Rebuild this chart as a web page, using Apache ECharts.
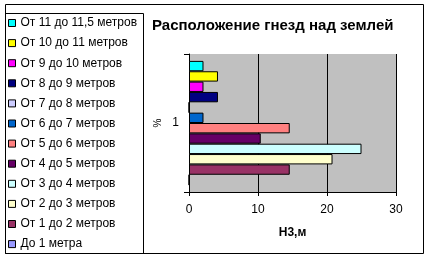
<!DOCTYPE html>
<html>
<head>
<meta charset="utf-8">
<script src="https://cdn.jsdelivr.net/npm/echarts@6/dist/echarts.min.js"></script>
<style>
html,body{margin:0;padding:0;background:#fff;}
#c{width:429px;height:259px;}
</style>
</head>
<body>
<div id="c"></div>
<script>
// Data (percent of nests by height range)
var seriesNames = ['До 1 метра','От 1 до 2 метров','От 2 до 3 метров','От 3 до 4 метров','От 4 до 5 метров','От 5 до 6 метров','От 6 до 7 метров','От 7 до 8 метров','От 8 до 9 метров','От 9 до 10 метров','От 10 до 11 метров','От 11 до 11,5 метров'];
var seriesValues = [0, 14.6, 20.8, 25, 10.4, 14.6, 2.1, 0, 4.2, 2.1, 4.2, 2.1];
var seriesColors = ['#9999FF','#993366','#FFFFCC','#CCFFFF','#660066','#FF8080','#0066CC','#CCCCFF','#000080','#FF00FF','#FFFF00','#00FFFF'];
var categories = ['1'];
var xTicks = [0, 10, 20, 30];

var FONT = '"Liberation Sans", Arial, sans-serif';
var chart = echarts.init(document.getElementById('c'), null, {renderer: 'canvas'});

var series = seriesNames.map(function (n, i) {
  return {
    name: n,
    type: 'bar',
    data: [seriesValues[i]],
    barGap: '0%',
    barCategoryGap: '10%',
    itemStyle: {color: seriesColors[i], borderColor: '#000', borderWidth: 1},
    emphasis: {disabled: true},
    animation: false
  };
}).reverse();

chart.setOption({
  animation: false,
  title: {
    text: 'Расположение гнезд над землей',
    left: 152, top: 18,
    padding: 0,
    textStyle: {fontFamily: FONT, fontSize: 15, fontWeight: 'bold', color: '#000'}
  },
  legend: {
    orient: 'vertical',
    left: 8, top: 16,
    padding: 0,
    itemWidth: 7, itemHeight: 7,
    itemGap: 6.1,
    icon: 'rect',
    data: seriesNames.slice().reverse(),
    itemStyle: {borderColor: '#000', borderWidth: 1},
    textStyle: {fontFamily: FONT, fontSize: 12, color: '#000', lineHeight: 14},
    selectedMode: false
  },
  grid: {
    left: 189, right: 33, top: 54, bottom: 67,
    show: true, backgroundColor: '#C0C0C0', borderWidth: 0
  },
  xAxis: {
    type: 'value', min: xTicks[0], max: xTicks[xTicks.length - 1], interval: 10,
    name: 'Н3,м', nameLocation: 'middle', nameGap: 35,
    nameTextStyle: {fontFamily: FONT, fontSize: 12, fontWeight: 'bold', color: '#000'},
    axisLine: {show: true, lineStyle: {color: '#000', width: 1}},
    axisTick: {show: true, length: 4, lineStyle: {color: '#000'}},
    axisLabel: {fontFamily: FONT, fontSize: 12, color: '#000', margin: 12},
    splitLine: {show: true, lineStyle: {color: '#000', width: 1}}
  },
  yAxis: {
    type: 'category', data: categories,
    name: '%', nameLocation: 'middle', nameRotate: 90, nameGap: 26,
    nameTextStyle: {fontFamily: FONT, fontSize: 10, color: '#000'},
    axisLine: {show: true, lineStyle: {color: '#000', width: 1}},
    axisTick: {show: true, length: 5, lineStyle: {color: '#000'}},
    axisLabel: {fontFamily: FONT, fontSize: 12, color: '#000', margin: 10}
  },
  series: series,
  graphic: [
    {type: 'rect', shape: {x: 5.5, y: 4.5, width: 418, height: 249}, style: {fill: 'none', stroke: '#000', lineWidth: 1}, silent: true},
    {type: 'rect', shape: {x: 5.5, y: 13.5, width: 138, height: 240}, style: {fill: 'none', stroke: '#000', lineWidth: 1}, silent: true}
  ]
});
</script>
</body>
</html>
